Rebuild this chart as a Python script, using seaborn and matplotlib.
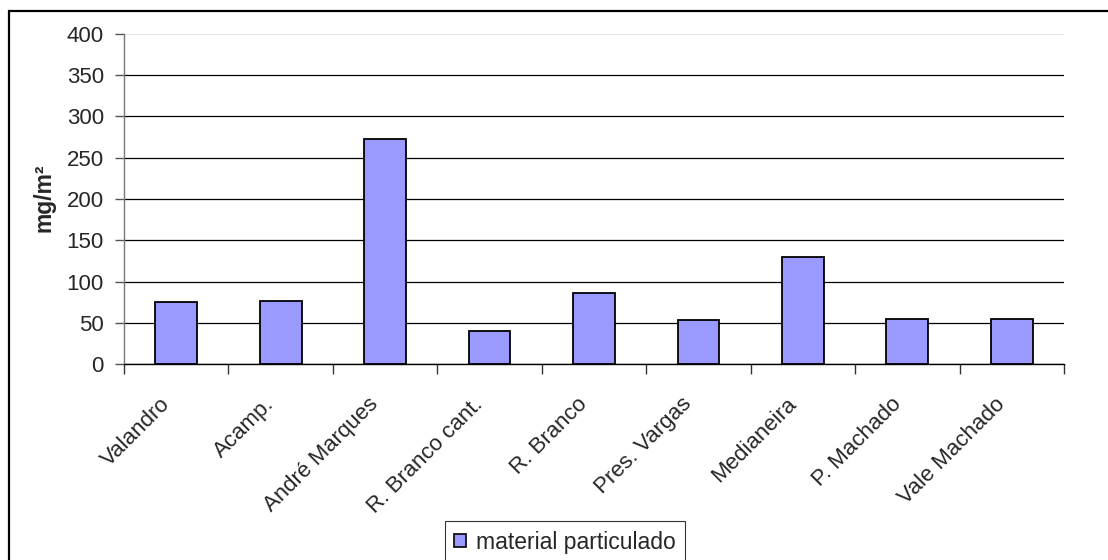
import matplotlib
matplotlib.use("Agg")
import matplotlib.pyplot as plt
from matplotlib.patches import Rectangle
from matplotlib.transforms import ScaledTranslation
import seaborn as sns
import pandas as pd

# Particulate matter per sampling site
locais = ["Valandro", "Acamp.", "André Marques", "R. Branco cant.", "R. Branco",
          "Pres. Vargas", "Medianeira", "P. Machado", "Vale Machado"]
valores = [75, 77, 272, 40, 86, 53, 130, 55, 55]
serie = "material particulado"
y_ticks = [0, 50, 100, 150, 200, 250, 300, 350, 400]
y_label = "mg/m²"

sns.set_theme(style="white")
plt.rcParams["font.family"] = ["Liberation Sans", "DejaVu Sans"]

df = pd.DataFrame({"local": locais, "valor": valores})

W, H = 1108, 560
fig = plt.figure(figsize=(W / 100, H / 100), dpi=100)
ax = fig.add_axes([124 / W, 1 - 364.3 / H, (1064 - 124) / W, (364.3 - 33.7) / H])

sns.barplot(data=df, x="local", y="valor", color="#9999FF", width=0.4,
            edgecolor="black", linewidth=1.3, saturation=1, label=serie, ax=ax)

ax.set_ylim(0, 400)
ax.set_xlim(-0.5, len(locais) - 0.5)
ax.set_yticks(y_ticks)
ax.set_yticklabels([str(v) for v in y_ticks], fontsize=16)
ax.set_ylabel(y_label, fontsize=16.5, fontweight="bold")
ax.yaxis.set_label_coords(-0.073, 0.505)
ax.set_xlabel("")

# Horizontal gridlines
ax.set_axisbelow(True)
ax.yaxis.grid(True, color="black", linewidth=0.9)
ax.get_ygridlines()[-1].set_color("#e6e6e6")

for side in ["top", "right"]:
    ax.spines[side].set_visible(False)
ax.spines["left"].set_color("#777777")
ax.spines["left"].set_linewidth(1.0)
ax.spines["bottom"].set_color("black")
ax.spines["bottom"].set_linewidth(1.0)

ax.tick_params(axis="y", direction="out", length=6.5, width=1, color="#555555",
               pad=8, left=True)

# Category labels centred on bars, tick marks on the category boundaries
ax.set_xticks(range(len(locais)))
ax.set_xticklabels(locais, rotation=45, ha="right", va="top",
                   rotation_mode="anchor", fontsize=16)
ax.tick_params(axis="x", which="major", length=0, pad=14, bottom=True)
ax.set_xticks([i - 0.5 for i in range(len(locais) + 1)], minor=True)
ax.tick_params(axis="x", which="minor", direction="out", length=7, width=1,
               color="#333333", bottom=True)
shift = ScaledTranslation(-0.17, -0.10, fig.dpi_scale_trans)
for lbl in ax.get_xticklabels():
    lbl.set_transform(lbl.get_transform() + shift)

leg = ax.legend(loc="center", bbox_to_anchor=(565 / W, 1 - 542 / H),
                bbox_transform=fig.transFigure, fontsize=16.5, frameon=True,
                fancybox=False, edgecolor="black", handlelength=0.52,
                handleheight=0.52, handletextpad=0.44, borderpad=0.4,
                borderaxespad=0)
leg.get_frame().set_linewidth(0.8)
for h in leg.legend_handles:
    h.set_edgecolor("black")
    h.set_linewidth(1.2)

# Chart-area border
fig.patches.append(Rectangle((8.5 / W, -0.1), 1.2, 1 - 11 / H + 0.1,
                             transform=fig.transFigure, fill=False,
                             edgecolor="black", linewidth=1.6, zorder=10))

fig.savefig("out.png", dpi=100, facecolor="white")
